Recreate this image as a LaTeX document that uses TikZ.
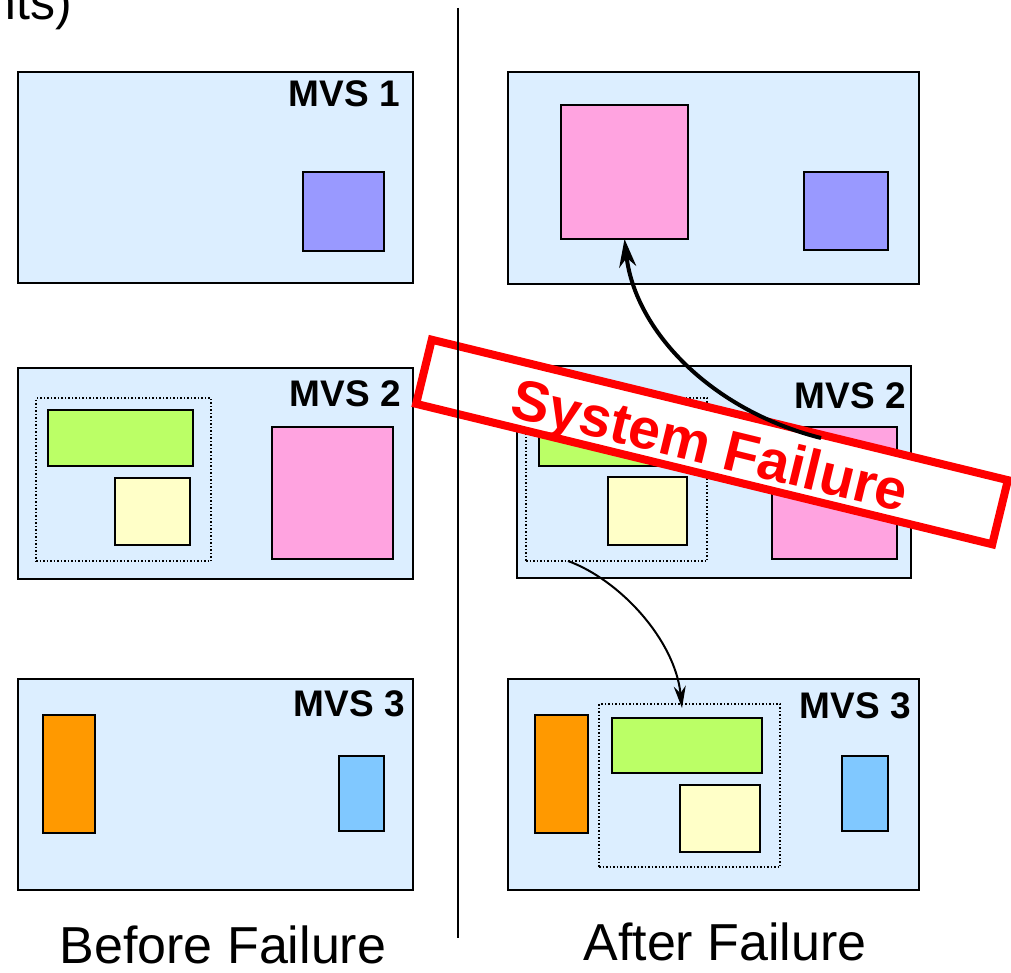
\documentclass[tikz,border=0pt]{standalone}
\usepackage{fontspec}
\setmainfont{Liberation Sans}
\usetikzlibrary{arrows.meta,calc}
\definecolor{mvsblue}{RGB}{220,238,255}
\definecolor{cpurple}{RGB}{153,153,255}
\definecolor{cpink}{RGB}{255,163,224}
\definecolor{cgreen}{RGB}{187,255,102}
\definecolor{cyellow}{RGB}{255,255,200}
\definecolor{corange}{RGB}{255,153,0}
\definecolor{ccyan}{RGB}{128,200,255}
\definecolor{cred}{RGB}{255,0,0}
\newcommand\bx[6]{\node[#6, minimum width={(#4-#2)*1pt}, minimum height={(#5-#3)*1pt}, anchor=north west] (#1) at (#2,-#3) {};}
\tikzset{
  mvs/.style={draw=black, line width=2.2pt, fill=mvsblue, inner sep=0pt, outer sep=0pt},
  blk/.style={draw=black, line width=2pt, fill=#1, inner sep=0pt, outer sep=0pt},
  dotbox/.style={draw=black, line width=1.5pt, dotted, inner sep=0pt, outer sep=0pt},
  mvslabel/.style={anchor=base east, inner sep=0pt, font=\bfseries\fontsize{37}{42}\selectfont},
  bottomlabel/.style={anchor=base, inner sep=0pt, font=\fontsize{52}{58}\selectfont},
  failbox/.style={draw=cred, line width=8pt, fill=white, inner sep=0pt, rotate=-13.7},
  failtext/.style={inner sep=0pt, rotate=-13.7, text=cred, font=\bfseries\fontsize{57}{62}\selectfont},
}
\begin{document}
\begin{tikzpicture}[x=1pt,y=1pt]
\useasboundingbox (0,0) rectangle (1011,-973);
% fragment of title at top-left
\node[anchor=base east, inner sep=0pt, font=\fontsize{50}{56}\selectfont] (title) at (72,-20) {nts)};
% ---------------- Left column (before failure)
\bx{lmvs1}{18}{72}{413}{283}{mvs}
\node[mvslabel] (lmvs1lab) at (400,-107) {MVS 1};
\bx{lpurple}{303}{172}{384}{251}{blk=cpurple}

\bx{lmvs2}{18}{368}{413}{579}{mvs}
\node[mvslabel] (lmvs2lab) at (401,-406) {MVS 2};
\bx{ldot}{36}{398}{211}{561}{dotbox}
\bx{lgreen}{48}{410}{193}{466}{blk=cgreen}
\bx{lyellow}{115}{478}{190}{545}{blk=cyellow}
\bx{lpink}{272}{427}{393}{559}{blk=cpink}

\bx{lmvs3}{18}{679}{413}{890}{mvs}
\node[mvslabel] (lmvs3lab) at (405,-716) {MVS 3};
\bx{lorange}{43}{715}{95}{833}{blk=corange}
\bx{lcyan}{339}{756}{384}{831}{blk=ccyan}

% ---------------- Right column (after failure)
\bx{rmvs1}{508}{72}{919}{284}{mvs}
\bx{rpink}{561}{105}{688}{239}{blk=cpink}
\bx{rpurple}{804}{172}{888}{250}{blk=cpurple}

\bx{rmvs2}{517}{366}{911}{578}{mvs}
\node[mvslabel] (rmvs2lab) at (906,-408) {MVS 2};
\bx{rdot}{526}{398}{707}{561}{dotbox}
\bx{rgreen}{539}{420}{684}{466}{blk=cgreen}
\bx{ryellow}{608}{477}{687}{545}{blk=cyellow}
\bx{rpinkb}{772}{427}{897}{559}{blk=cpink}

\bx{rmvs3}{508}{679}{919}{890}{mvs}
\node[mvslabel] (rmvs3lab) at (911,-718) {MVS 3};
\bx{rorange}{535}{715}{588}{833}{blk=corange}
\bx{rdot3}{599}{704}{780}{867}{dotbox}
\bx{rgreen3}{612}{718}{762}{773}{blk=cgreen}
\bx{ryellow3}{680}{785}{760}{852}{blk=cyellow}
\bx{rcyan}{842}{756}{888}{831}{blk=ccyan}

% thin migration arrow
\coordinate (mstart) at ($(rdot.south west)+(42,0)$);
\coordinate (mend) at ($(rdot3.north west)+(83,-4)$);
\draw[line width=2pt, -{Stealth[length=22pt,width=12pt]}] (mstart) .. controls (620,-580) and (675,-640) .. (mend);

% System failure banner
\node[failbox, minimum width=593pt, minimum height=66pt] (fail) at (712,-442) {};
\node[failtext] (failtxt) at (709,-450) {System Failure};

% divider
\coordinate (dtop) at (458,-8);
\coordinate (dbot) at (458,-938);
\draw[line width=1.8pt] (dtop) -- (dbot);

% big restart arrow
\coordinate (bstart) at (821,-438);
\draw[line width=4pt, -{Stealth[length=28pt,width=17pt]}] (bstart) .. controls (710,-410) and (635,-330) .. (rpink.south);

% bottom labels
\node[bottomlabel] (before) at (223,-963) {Before Failure};
\node[bottomlabel] (after) at (725,-960) {After Failure};
\end{tikzpicture}
\end{document}
